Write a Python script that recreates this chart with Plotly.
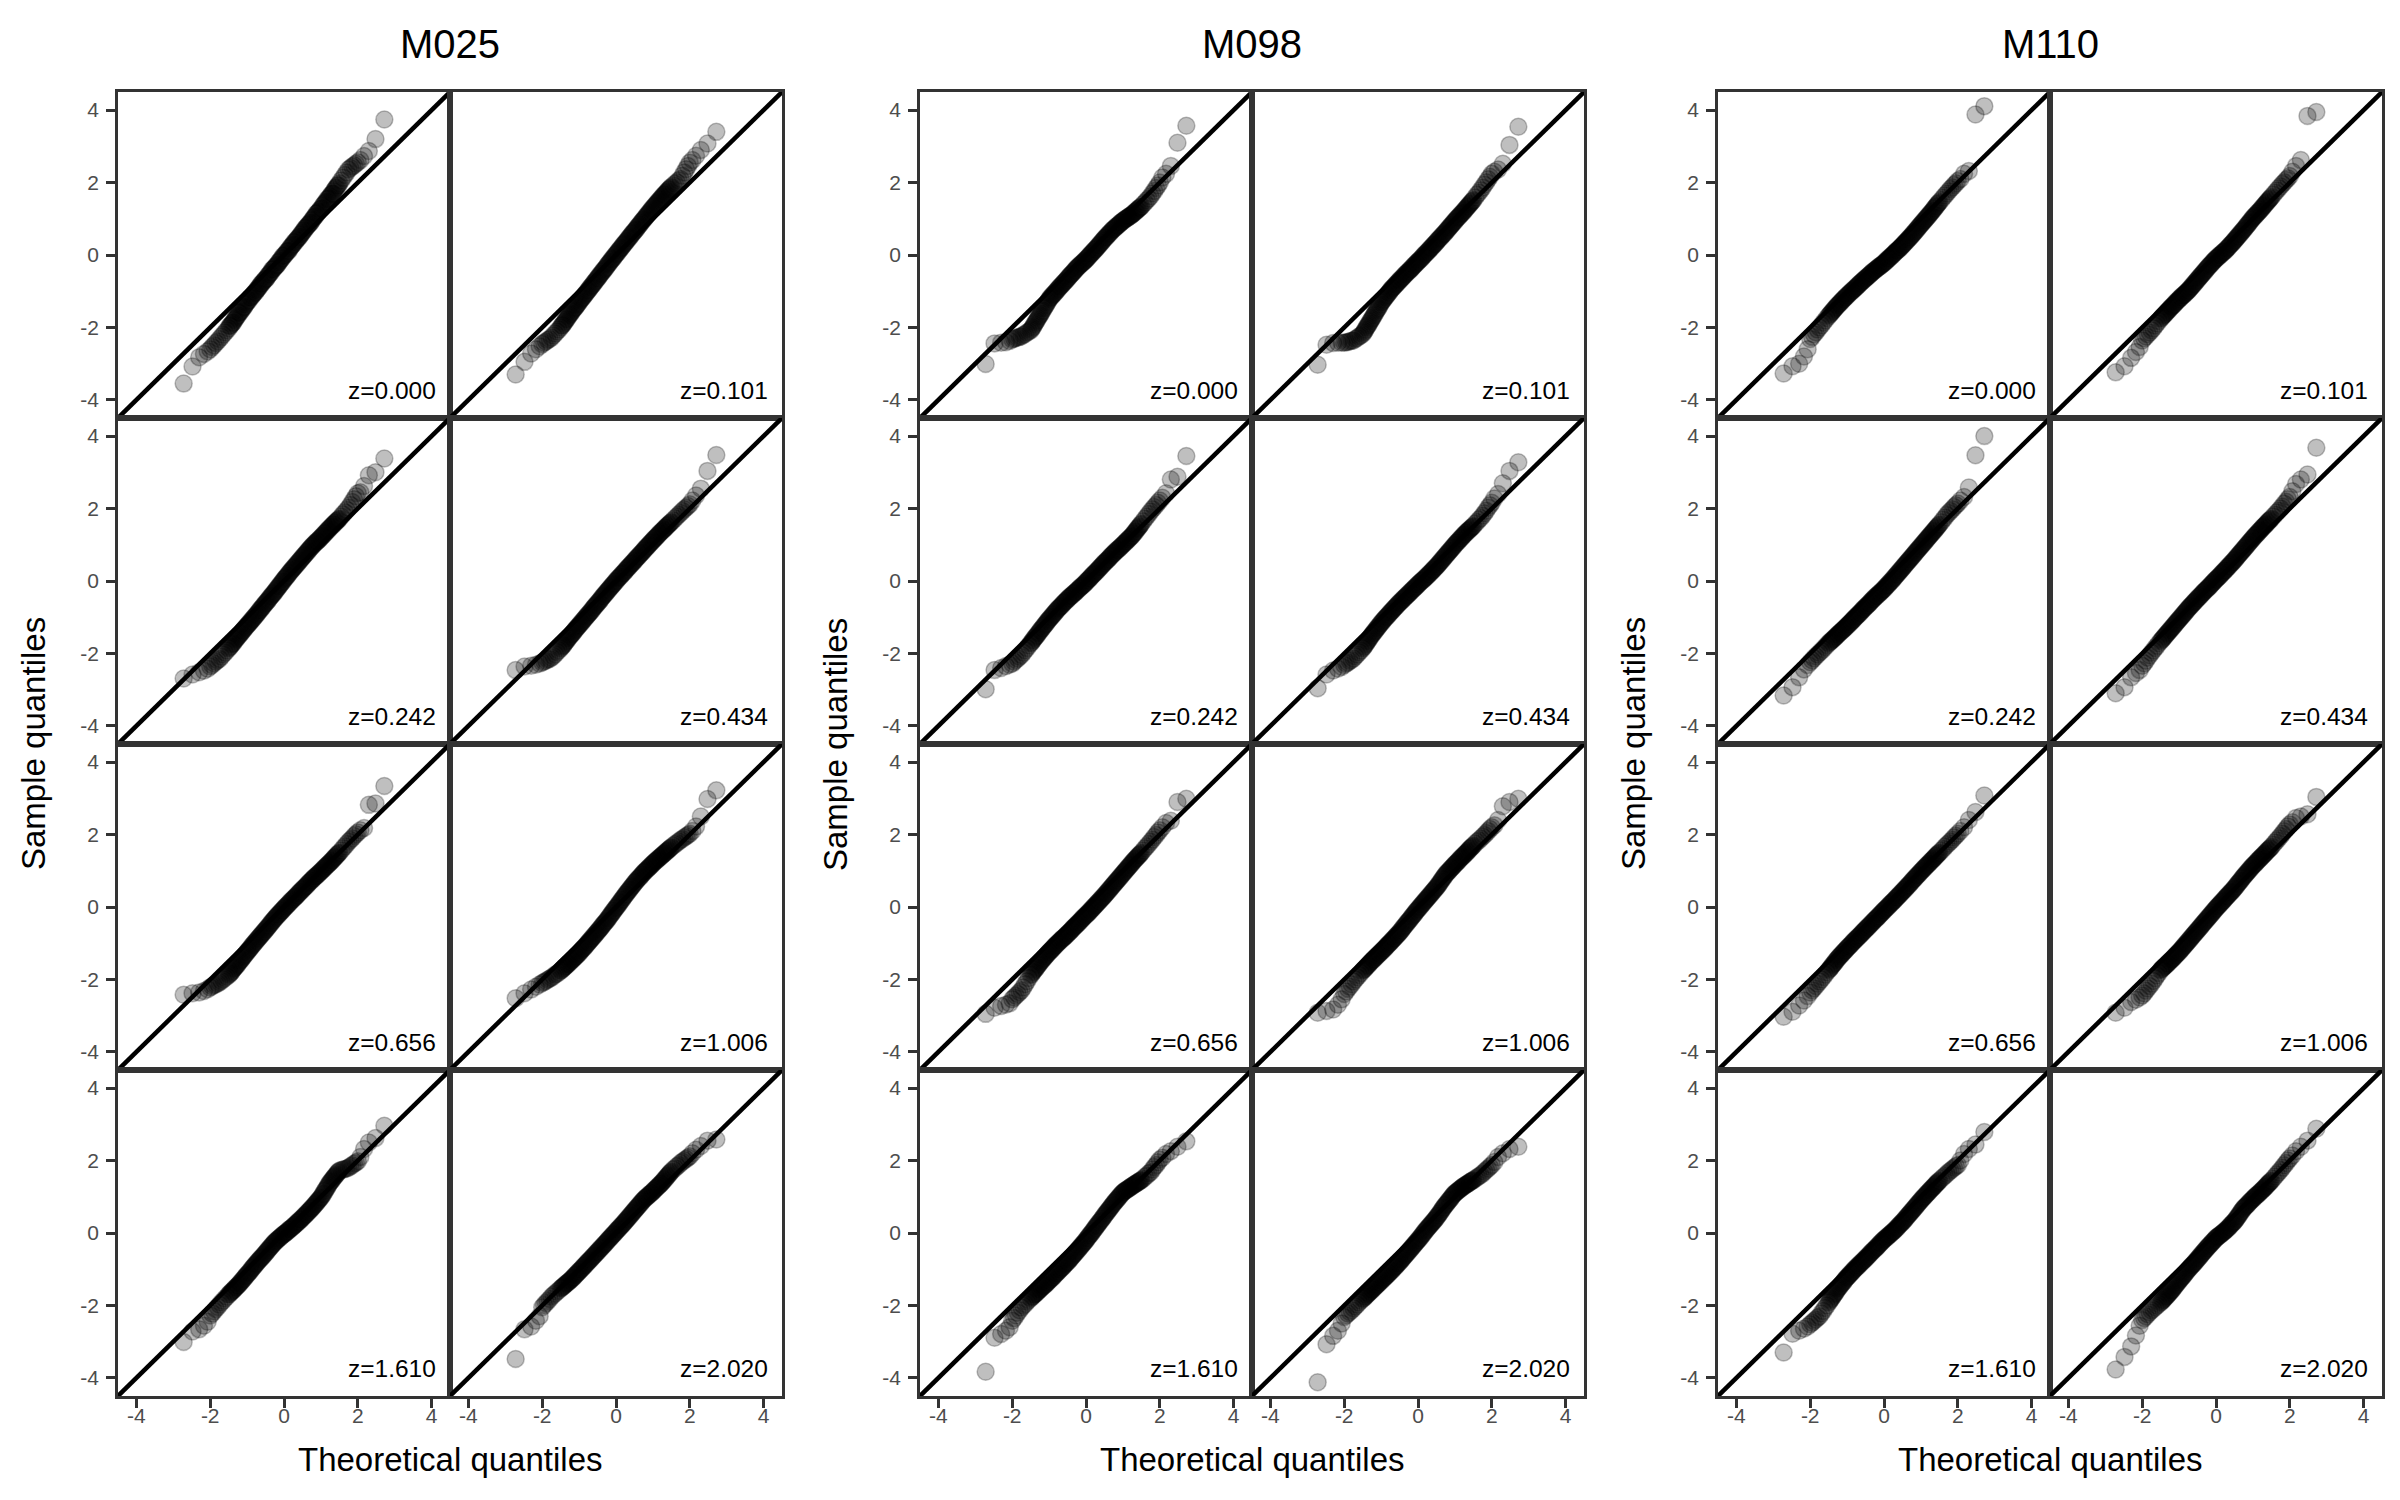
import plotly.graph_objects as go

# theoretical normal quantiles shared by every panel
THEO = [-2.72, -2.48, -2.30, -2.17, -2.07,
        -2.00, -1.95, -1.90, -1.85, -1.80, -1.75, -1.70, -1.65, -1.60, -1.55,
        -1.50, -1.45, -1.40, -1.35, -1.30, -1.25, -1.20, -1.15, -1.10, -1.05,
        -1.00, -0.95, -0.90, -0.85, -0.80, -0.75, -0.70, -0.65, -0.60, -0.55,
        -0.50, -0.45, -0.40, -0.35, -0.30, -0.25, -0.20, -0.15, -0.10, -0.05,
        0.00, 0.05, 0.10, 0.15, 0.20, 0.25, 0.30, 0.35, 0.40, 0.45,
        0.50, 0.55, 0.60, 0.65, 0.70, 0.75, 0.80, 0.85, 0.90, 0.95,
        1.00, 1.05, 1.10, 1.15, 1.20, 1.25, 1.30, 1.35, 1.40, 1.45,
        1.50, 1.55, 1.60, 1.65, 1.70, 1.75, 1.80, 1.85, 1.90, 1.95,
        2.00, 2.07, 2.17, 2.30, 2.48, 2.72]
# extra theoretical quantiles in the dense middle of the distribution
THEO_MID = [-1.475, -1.425, -1.375, -1.325, -1.275, -1.225, -1.175, -1.125, -1.075, -1.025,
            -0.975, -0.925, -0.875, -0.825, -0.775, -0.725, -0.675, -0.625, -0.575, -0.525,
            -0.475, -0.425, -0.375, -0.325, -0.275, -0.225, -0.175, -0.125, -0.075, -0.025,
            0.025, 0.075, 0.125, 0.175, 0.225, 0.275, 0.325, 0.375, 0.425, 0.475,
            0.525, 0.575, 0.625, 0.675, 0.725, 0.775, 0.825, 0.875, 0.925, 0.975,
            1.025, 1.075, 1.125, 1.175, 1.225, 1.275, 1.325, 1.375, 1.425, 1.475]

# sample quantiles, one list per panel (same order as THEO / THEO_MID)
M025_Z0000 = [-3.55, -3.08, -2.82, -2.73, -2.66,
              -2.60, -2.54, -2.49, -2.43, -2.38, -2.32, -2.26, -2.20, -2.14, -2.08,
              -2.02, -1.95, -1.88, -1.80, -1.73, -1.66, -1.59, -1.52, -1.44, -1.37,
              -1.30, -1.24, -1.17, -1.11, -1.04, -0.98, -0.92, -0.85, -0.79, -0.72,
              -0.66, -0.60, -0.53, -0.47, -0.40, -0.34, -0.28, -0.21, -0.15, -0.08,
              -0.02, 0.04, 0.11, 0.17, 0.24, 0.30, 0.36, 0.43, 0.49, 0.56,
              0.62, 0.69, 0.75, 0.82, 0.88, 0.95, 1.02, 1.08, 1.15, 1.21,
              1.28, 1.35, 1.42, 1.48, 1.55, 1.62, 1.69, 1.76, 1.84, 1.91,
              1.98, 2.06, 2.13, 2.21, 2.28, 2.36, 2.40, 2.44, 2.48, 2.52,
              2.56, 2.62, 2.73, 2.87, 3.20, 3.74]
M025_Z0000_MID = [-1.96, -1.91, -1.86, -1.77, -1.70, -1.60, -1.56, -1.48, -1.43, -1.33,
                  -1.27, -1.18, -1.14, -1.07, -1.03, -0.95, -0.88, -0.80, -0.75, -0.69,
                  -0.65, -0.56, -0.50, -0.41, -0.37, -0.31, -0.26, -0.18, -0.11, -0.03,
                  0.01, 0.08, 0.12, 0.21, 0.27, 0.35, 0.40, 0.46, 0.51, 0.59,
                  0.66, 0.74, 0.79, 0.85, 0.90, 0.98, 1.05, 1.14, 1.18, 1.25,
                  1.29, 1.39, 1.45, 1.54, 1.58, 1.66, 1.70, 1.80, 1.87, 1.93]
M025_Z0101 = [-3.30, -2.95, -2.72, -2.60, -2.52,
              -2.46, -2.42, -2.39, -2.35, -2.32, -2.28, -2.22, -2.17, -2.11, -2.06,
              -2.00, -1.93, -1.86, -1.78, -1.71, -1.64, -1.57, -1.50, -1.44, -1.37,
              -1.30, -1.23, -1.17, -1.10, -1.04, -0.97, -0.90, -0.84, -0.77, -0.71,
              -0.64, -0.57, -0.51, -0.44, -0.38, -0.31, -0.24, -0.18, -0.11, -0.05,
              0.02, 0.08, 0.15, 0.21, 0.28, 0.34, 0.40, 0.47, 0.53, 0.60,
              0.66, 0.72, 0.79, 0.85, 0.92, 0.98, 1.04, 1.11, 1.17, 1.24,
              1.30, 1.36, 1.42, 1.48, 1.54, 1.60, 1.66, 1.71, 1.77, 1.82,
              1.88, 1.92, 1.97, 2.01, 2.06, 2.10, 2.19, 2.28, 2.37, 2.46,
              2.55, 2.62, 2.74, 2.90, 3.08, 3.40]
M025_Z0101_MID = [-1.95, -1.90, -1.82, -1.76, -1.67, -1.61, -1.53, -1.47, -1.40, -1.34,
                  -1.26, -1.20, -1.13, -1.07, -1.00, -0.94, -0.87, -0.81, -0.74, -0.67,
                  -0.61, -0.54, -0.47, -0.41, -0.35, -0.27, -0.21, -0.14, -0.08, -0.01,
                  0.05, 0.12, 0.18, 0.25, 0.31, 0.37, 0.44, 0.50, 0.57, 0.63,
                  0.69, 0.76, 0.82, 0.89, 0.95, 1.01, 1.08, 1.14, 1.21, 1.27,
                  1.33, 1.39, 1.45, 1.51, 1.57, 1.63, 1.68, 1.74, 1.80, 1.85]
M025_Z0242 = [-2.69, -2.58, -2.52, -2.48, -2.42,
              -2.36, -2.32, -2.27, -2.23, -2.19, -2.15, -2.09, -2.03, -1.98, -1.92,
              -1.86, -1.80, -1.73, -1.67, -1.60, -1.54, -1.48, -1.42, -1.35, -1.29,
              -1.23, -1.17, -1.11, -1.05, -0.99, -0.93, -0.87, -0.80, -0.74, -0.67,
              -0.61, -0.55, -0.49, -0.42, -0.36, -0.30, -0.23, -0.16, -0.10, -0.03,
              0.04, 0.10, 0.16, 0.23, 0.29, 0.35, 0.41, 0.47, 0.53, 0.59,
              0.65, 0.71, 0.77, 0.83, 0.89, 0.95, 1.00, 1.05, 1.10, 1.15,
              1.20, 1.25, 1.31, 1.36, 1.42, 1.47, 1.52, 1.57, 1.62, 1.67,
              1.72, 1.78, 1.84, 1.90, 1.96, 2.02, 2.10, 2.18, 2.26, 2.34,
              2.42, 2.45, 2.62, 2.92, 3.00, 3.38]
M025_Z0242_MID = [-1.83, -1.76, -1.71, -1.63, -1.57, -1.51, -1.45, -1.38, -1.32, -1.26,
                  -1.20, -1.14, -1.08, -1.02, -0.96, -0.90, -0.83, -0.77, -0.71, -0.64,
                  -0.58, -0.52, -0.45, -0.39, -0.33, -0.26, -0.20, -0.13, -0.06, 0.00,
                  0.07, 0.13, 0.20, 0.26, 0.32, 0.38, 0.44, 0.50, 0.56, 0.62,
                  0.68, 0.74, 0.80, 0.86, 0.92, 0.97, 1.03, 1.08, 1.12, 1.17,
                  1.23, 1.28, 1.33, 1.39, 1.44, 1.50, 1.55, 1.60, 1.65, 1.70]
M025_Z0434 = [-2.46, -2.36, -2.34, -2.31, -2.28,
              -2.25, -2.22, -2.20, -2.17, -2.15, -2.12, -2.07, -2.02, -1.96, -1.91,
              -1.86, -1.79, -1.73, -1.66, -1.59, -1.53, -1.47, -1.41, -1.34, -1.28,
              -1.22, -1.16, -1.10, -1.04, -0.98, -0.92, -0.86, -0.80, -0.73, -0.67,
              -0.61, -0.55, -0.49, -0.42, -0.36, -0.30, -0.24, -0.18, -0.12, -0.06,
              0.00, 0.06, 0.11, 0.17, 0.22, 0.28, 0.34, 0.39, 0.45, 0.50,
              0.56, 0.62, 0.67, 0.73, 0.78, 0.84, 0.90, 0.95, 1.01, 1.06,
              1.12, 1.17, 1.22, 1.28, 1.33, 1.38, 1.43, 1.48, 1.53, 1.58,
              1.63, 1.68, 1.73, 1.78, 1.83, 1.88, 1.93, 1.98, 2.02, 2.07,
              2.12, 2.22, 2.36, 2.55, 3.04, 3.48]
M025_Z0434_MID = [-1.82, -1.77, -1.69, -1.63, -1.56, -1.50, -1.44, -1.37, -1.31, -1.25,
                  -1.19, -1.13, -1.07, -1.01, -0.95, -0.89, -0.83, -0.76, -0.70, -0.64,
                  -0.58, -0.52, -0.45, -0.39, -0.33, -0.27, -0.21, -0.15, -0.09, -0.03,
                  0.03, 0.09, 0.14, 0.20, 0.25, 0.31, 0.37, 0.42, 0.48, 0.53,
                  0.59, 0.65, 0.70, 0.76, 0.81, 0.87, 0.93, 0.98, 1.04, 1.09,
                  1.15, 1.20, 1.25, 1.31, 1.36, 1.41, 1.46, 1.51, 1.56, 1.61]
M025_Z0656 = [-2.42, -2.38, -2.36, -2.32, -2.27,
              -2.22, -2.19, -2.16, -2.14, -2.11, -2.08, -2.04, -2.00, -1.96, -1.92,
              -1.88, -1.82, -1.76, -1.69, -1.63, -1.57, -1.50, -1.44, -1.37, -1.31,
              -1.24, -1.18, -1.12, -1.05, -0.99, -0.93, -0.87, -0.81, -0.75, -0.69,
              -0.63, -0.57, -0.51, -0.44, -0.38, -0.32, -0.26, -0.21, -0.15, -0.10,
              -0.04, 0.01, 0.06, 0.12, 0.17, 0.22, 0.27, 0.32, 0.38, 0.43,
              0.48, 0.53, 0.58, 0.64, 0.69, 0.74, 0.79, 0.84, 0.88, 0.93,
              0.98, 1.03, 1.08, 1.13, 1.18, 1.23, 1.28, 1.34, 1.39, 1.45,
              1.50, 1.56, 1.62, 1.68, 1.74, 1.80, 1.85, 1.90, 1.96, 2.01,
              2.06, 2.12, 2.18, 2.82, 2.86, 3.34]
M025_Z0656_MID = [-1.85, -1.79, -1.72, -1.66, -1.60, -1.53, -1.47, -1.40, -1.34, -1.27,
                  -1.21, -1.15, -1.08, -1.02, -0.96, -0.90, -0.84, -0.78, -0.72, -0.66,
                  -0.60, -0.54, -0.47, -0.41, -0.35, -0.29, -0.23, -0.18, -0.12, -0.07,
                  -0.01, 0.04, 0.09, 0.15, 0.20, 0.25, 0.30, 0.35, 0.41, 0.46,
                  0.51, 0.56, 0.61, 0.67, 0.72, 0.77, 0.82, 0.86, 0.91, 0.96,
                  1.01, 1.06, 1.11, 1.16, 1.21, 1.26, 1.31, 1.37, 1.42, 1.48]
M025_Z1006 = [-2.52, -2.38, -2.28, -2.20, -2.14,
              -2.10, -2.07, -2.04, -2.01, -1.98, -1.95, -1.91, -1.87, -1.84, -1.80,
              -1.76, -1.71, -1.66, -1.62, -1.57, -1.52, -1.47, -1.42, -1.37, -1.32,
              -1.27, -1.21, -1.15, -1.10, -1.04, -0.98, -0.92, -0.86, -0.80, -0.74,
              -0.68, -0.62, -0.56, -0.49, -0.43, -0.37, -0.30, -0.23, -0.16, -0.09,
              -0.02, 0.05, 0.12, 0.19, 0.26, 0.33, 0.40, 0.46, 0.53, 0.59,
              0.66, 0.72, 0.78, 0.83, 0.89, 0.95, 1.00, 1.05, 1.10, 1.15,
              1.20, 1.25, 1.29, 1.34, 1.38, 1.43, 1.47, 1.52, 1.56, 1.61,
              1.65, 1.69, 1.73, 1.77, 1.81, 1.85, 1.88, 1.92, 1.95, 1.99,
              2.02, 2.10, 2.22, 2.50, 2.98, 3.22]
M025_Z1006_MID = [-1.74, -1.69, -1.64, -1.59, -1.55, -1.50, -1.45, -1.40, -1.35, -1.30,
                  -1.24, -1.18, -1.13, -1.07, -1.01, -0.95, -0.89, -0.83, -0.77, -0.71,
                  -0.65, -0.59, -0.52, -0.46, -0.40, -0.33, -0.26, -0.19, -0.12, -0.05,
                  0.01, 0.08, 0.15, 0.22, 0.29, 0.36, 0.43, 0.49, 0.56, 0.62,
                  0.69, 0.75, 0.80, 0.86, 0.92, 0.97, 1.02, 1.07, 1.12, 1.17,
                  1.22, 1.27, 1.31, 1.36, 1.40, 1.45, 1.49, 1.54, 1.58, 1.63]
M025_Z1610 = [-3.01, -2.72, -2.66, -2.56, -2.45,
              -2.28, -2.22, -2.16, -2.10, -2.04, -1.98, -1.92, -1.87, -1.81, -1.76,
              -1.70, -1.65, -1.60, -1.55, -1.50, -1.45, -1.39, -1.33, -1.27, -1.21,
              -1.15, -1.09, -1.03, -0.96, -0.90, -0.84, -0.78, -0.72, -0.67, -0.61,
              -0.55, -0.49, -0.43, -0.37, -0.31, -0.25, -0.21, -0.16, -0.12, -0.07,
              -0.03, 0.01, 0.05, 0.10, 0.14, 0.18, 0.23, 0.28, 0.32, 0.37,
              0.42, 0.47, 0.52, 0.58, 0.63, 0.68, 0.74, 0.80, 0.86, 0.92,
              0.98, 1.06, 1.15, 1.23, 1.32, 1.40, 1.46, 1.53, 1.59, 1.66,
              1.72, 1.74, 1.75, 1.77, 1.78, 1.80, 1.84, 1.87, 1.91, 1.94,
              1.98, 2.10, 2.32, 2.50, 2.62, 2.96]
M025_Z1610_MID = [-1.68, -1.62, -1.58, -1.52, -1.47, -1.42, -1.36, -1.30, -1.24, -1.18,
                  -1.12, -1.06, -0.99, -0.93, -0.87, -0.81, -0.75, -0.70, -0.64, -0.58,
                  -0.52, -0.46, -0.40, -0.34, -0.28, -0.23, -0.18, -0.14, -0.09, -0.05,
                  -0.01, 0.03, 0.08, 0.12, 0.16, 0.21, 0.25, 0.30, 0.35, 0.39,
                  0.45, 0.50, 0.55, 0.60, 0.66, 0.71, 0.77, 0.83, 0.89, 0.95,
                  1.02, 1.10, 1.19, 1.27, 1.36, 1.43, 1.50, 1.56, 1.62, 1.69]
M025_Z2020 = [-3.48, -2.66, -2.58, -2.42, -2.30,
              -2.05, -1.99, -1.93, -1.88, -1.82, -1.76, -1.71, -1.67, -1.62, -1.58,
              -1.53, -1.49, -1.45, -1.40, -1.36, -1.32, -1.27, -1.22, -1.16, -1.11,
              -1.06, -1.01, -0.95, -0.90, -0.84, -0.79, -0.74, -0.68, -0.63, -0.57,
              -0.52, -0.46, -0.41, -0.35, -0.30, -0.24, -0.18, -0.13, -0.07, -0.02,
              0.04, 0.10, 0.15, 0.21, 0.26, 0.32, 0.38, 0.44, 0.50, 0.56,
              0.62, 0.68, 0.74, 0.80, 0.86, 0.92, 0.97, 1.01, 1.06, 1.10,
              1.15, 1.20, 1.25, 1.30, 1.35, 1.40, 1.46, 1.52, 1.58, 1.64,
              1.70, 1.75, 1.79, 1.84, 1.88, 1.93, 1.97, 2.01, 2.04, 2.08,
              2.12, 2.20, 2.30, 2.40, 2.55, 2.58]
M025_Z2020_MID = [-1.51, -1.47, -1.42, -1.38, -1.34, -1.29, -1.24, -1.19, -1.14, -1.08,
                  -1.03, -0.98, -0.92, -0.87, -0.81, -0.76, -0.71, -0.65, -0.60, -0.54,
                  -0.49, -0.43, -0.38, -0.32, -0.27, -0.21, -0.15, -0.10, -0.04, 0.01,
                  0.07, 0.12, 0.18, 0.23, 0.29, 0.35, 0.41, 0.47, 0.53, 0.59,
                  0.65, 0.71, 0.77, 0.83, 0.89, 0.94, 0.99, 1.03, 1.08, 1.12,
                  1.17, 1.22, 1.27, 1.32, 1.37, 1.43, 1.49, 1.55, 1.61, 1.67]

M098_Z0000 = [-3.01, -2.44, -2.42, -2.41, -2.37,
              -2.33, -2.31, -2.29, -2.28, -2.26, -2.24, -2.21, -2.18, -2.14, -2.11,
              -2.08, -2.00, -1.91, -1.83, -1.74, -1.66, -1.57, -1.48, -1.40, -1.31,
              -1.22, -1.16, -1.10, -1.05, -0.99, -0.93, -0.87, -0.82, -0.76, -0.71,
              -0.65, -0.59, -0.53, -0.48, -0.42, -0.36, -0.31, -0.26, -0.22, -0.17,
              -0.12, -0.07, -0.01, 0.04, 0.10, 0.15, 0.21, 0.27, 0.33, 0.39,
              0.45, 0.50, 0.56, 0.61, 0.67, 0.72, 0.76, 0.81, 0.85, 0.90,
              0.94, 0.98, 1.01, 1.05, 1.08, 1.12, 1.16, 1.21, 1.25, 1.30,
              1.34, 1.40, 1.45, 1.51, 1.56, 1.62, 1.70, 1.77, 1.85, 1.92,
              2.00, 2.14, 2.24, 2.46, 3.10, 3.57]
M098_Z0000_MID = [-2.04, -1.96, -1.87, -1.79, -1.70, -1.62, -1.53, -1.44, -1.36, -1.27,
                  -1.19, -1.13, -1.08, -1.02, -0.96, -0.90, -0.85, -0.79, -0.74, -0.68,
                  -0.62, -0.56, -0.51, -0.45, -0.39, -0.34, -0.29, -0.24, -0.20, -0.15,
                  -0.10, -0.04, 0.02, 0.07, 0.13, 0.18, 0.24, 0.30, 0.36, 0.42,
                  0.48, 0.53, 0.59, 0.64, 0.70, 0.74, 0.79, 0.83, 0.88, 0.92,
                  0.96, 1.00, 1.03, 1.07, 1.10, 1.14, 1.19, 1.23, 1.28, 1.32]
M098_Z0101 = [-3.03, -2.48, -2.43, -2.42, -2.42,
              -2.42, -2.41, -2.40, -2.38, -2.37, -2.36, -2.32, -2.29, -2.25, -2.22,
              -2.18, -2.10, -2.01, -1.93, -1.84, -1.76, -1.67, -1.58, -1.50, -1.41,
              -1.32, -1.25, -1.18, -1.12, -1.05, -0.98, -0.92, -0.87, -0.81, -0.76,
              -0.70, -0.65, -0.60, -0.54, -0.49, -0.44, -0.39, -0.34, -0.28, -0.23,
              -0.18, -0.13, -0.08, -0.02, 0.03, 0.08, 0.14, 0.19, 0.25, 0.30,
              0.36, 0.42, 0.47, 0.53, 0.58, 0.64, 0.70, 0.76, 0.82, 0.88,
              0.94, 1.00, 1.05, 1.11, 1.16, 1.22, 1.28, 1.34, 1.40, 1.46,
              1.52, 1.59, 1.66, 1.72, 1.79, 1.86, 1.94, 2.01, 2.09, 2.16,
              2.24, 2.30, 2.36, 2.52, 3.04, 3.54]
M098_Z0101_MID = [-2.14, -2.06, -1.97, -1.89, -1.80, -1.72, -1.63, -1.54, -1.46, -1.37,
                  -1.29, -1.22, -1.15, -1.09, -1.02, -0.95, -0.90, -0.84, -0.79, -0.73,
                  -0.68, -0.63, -0.57, -0.52, -0.47, -0.42, -0.37, -0.31, -0.26, -0.21,
                  -0.16, -0.11, -0.05, 0.01, 0.06, 0.11, 0.17, 0.22, 0.28, 0.33,
                  0.39, 0.45, 0.50, 0.56, 0.61, 0.67, 0.73, 0.79, 0.85, 0.91,
                  0.97, 1.03, 1.08, 1.14, 1.19, 1.25, 1.31, 1.37, 1.43, 1.49]
M098_Z0242 = [-2.99, -2.46, -2.40, -2.35, -2.31,
              -2.28, -2.23, -2.18, -2.14, -2.09, -2.04, -1.98, -1.91, -1.85, -1.78,
              -1.72, -1.65, -1.58, -1.52, -1.45, -1.38, -1.32, -1.25, -1.19, -1.12,
              -1.06, -1.00, -0.94, -0.88, -0.82, -0.76, -0.71, -0.66, -0.60, -0.55,
              -0.50, -0.45, -0.41, -0.36, -0.32, -0.27, -0.22, -0.17, -0.13, -0.08,
              -0.03, 0.02, 0.07, 0.13, 0.18, 0.23, 0.28, 0.34, 0.39, 0.45,
              0.50, 0.55, 0.60, 0.66, 0.71, 0.76, 0.81, 0.86, 0.90, 0.95,
              1.00, 1.05, 1.10, 1.15, 1.20, 1.25, 1.32, 1.38, 1.45, 1.51,
              1.58, 1.65, 1.72, 1.78, 1.85, 1.92, 1.98, 2.04, 2.10, 2.16,
              2.22, 2.30, 2.42, 2.80, 2.88, 3.45]
M098_Z0242_MID = [-1.69, -1.62, -1.55, -1.49, -1.42, -1.35, -1.29, -1.22, -1.16, -1.09,
                  -1.03, -0.97, -0.91, -0.85, -0.79, -0.74, -0.69, -0.63, -0.58, -0.53,
                  -0.48, -0.43, -0.39, -0.34, -0.30, -0.25, -0.20, -0.15, -0.11, -0.06,
                  0.00, 0.05, 0.10, 0.16, 0.21, 0.26, 0.31, 0.37, 0.42, 0.48,
                  0.53, 0.58, 0.63, 0.69, 0.74, 0.79, 0.84, 0.88, 0.93, 0.98,
                  1.03, 1.08, 1.13, 1.18, 1.23, 1.29, 1.35, 1.42, 1.48, 1.55]
M098_Z0434 = [-2.96, -2.58, -2.47, -2.42, -2.37,
              -2.32, -2.28, -2.25, -2.21, -2.18, -2.14, -2.08, -2.03, -1.97, -1.92,
              -1.86, -1.79, -1.71, -1.64, -1.56, -1.49, -1.42, -1.36, -1.29, -1.23,
              -1.16, -1.10, -1.04, -0.99, -0.93, -0.87, -0.82, -0.76, -0.71, -0.65,
              -0.60, -0.55, -0.50, -0.45, -0.40, -0.35, -0.30, -0.25, -0.20, -0.15,
              -0.10, -0.05, 0.00, 0.04, 0.09, 0.14, 0.19, 0.24, 0.30, 0.35,
              0.40, 0.46, 0.52, 0.58, 0.64, 0.70, 0.76, 0.82, 0.88, 0.94,
              1.00, 1.06, 1.11, 1.17, 1.22, 1.28, 1.33, 1.38, 1.42, 1.47,
              1.52, 1.58, 1.63, 1.69, 1.74, 1.80, 1.87, 1.94, 2.02, 2.09,
              2.16, 2.28, 2.40, 2.70, 3.04, 3.28]
M098_Z0434_MID = [-1.82, -1.75, -1.67, -1.60, -1.52, -1.45, -1.39, -1.32, -1.26, -1.19,
                  -1.13, -1.07, -1.01, -0.96, -0.90, -0.84, -0.79, -0.73, -0.68, -0.62,
                  -0.57, -0.52, -0.47, -0.42, -0.37, -0.32, -0.27, -0.22, -0.17, -0.12,
                  -0.07, -0.02, 0.02, 0.07, 0.12, 0.17, 0.22, 0.27, 0.32, 0.38,
                  0.43, 0.49, 0.55, 0.61, 0.67, 0.73, 0.79, 0.85, 0.91, 0.97,
                  1.03, 1.08, 1.14, 1.19, 1.25, 1.30, 1.35, 1.40, 1.45, 1.50]
M098_Z0656 = [-2.95, -2.78, -2.73, -2.70, -2.66,
              -2.55, -2.50, -2.45, -2.40, -2.35, -2.30, -2.22, -2.13, -2.05, -1.96,
              -1.88, -1.81, -1.74, -1.68, -1.61, -1.54, -1.48, -1.42, -1.36, -1.30,
              -1.24, -1.19, -1.14, -1.08, -1.03, -0.98, -0.93, -0.88, -0.84, -0.79,
              -0.74, -0.69, -0.64, -0.58, -0.53, -0.48, -0.43, -0.38, -0.32, -0.27,
              -0.22, -0.17, -0.12, -0.06, -0.01, 0.04, 0.10, 0.15, 0.21, 0.26,
              0.32, 0.38, 0.44, 0.50, 0.56, 0.62, 0.68, 0.74, 0.80, 0.86,
              0.92, 0.98, 1.04, 1.10, 1.16, 1.22, 1.28, 1.33, 1.39, 1.44,
              1.50, 1.56, 1.62, 1.68, 1.74, 1.80, 1.86, 1.93, 1.99, 2.06,
              2.12, 2.20, 2.32, 2.38, 2.90, 2.99]
M098_Z0656_MID = [-1.85, -1.78, -1.71, -1.65, -1.58, -1.51, -1.45, -1.39, -1.33, -1.27,
                  -1.22, -1.17, -1.11, -1.06, -1.01, -0.96, -0.91, -0.86, -0.82, -0.77,
                  -0.72, -0.67, -0.61, -0.56, -0.51, -0.46, -0.41, -0.35, -0.30, -0.25,
                  -0.20, -0.15, -0.09, -0.04, 0.02, 0.07, 0.13, 0.18, 0.24, 0.29,
                  0.35, 0.41, 0.47, 0.53, 0.59, 0.65, 0.71, 0.77, 0.83, 0.89,
                  0.95, 1.01, 1.07, 1.13, 1.19, 1.25, 1.31, 1.36, 1.42, 1.47]
M098_Z1006 = [-2.92, -2.87, -2.83, -2.70, -2.55,
              -2.40, -2.33, -2.26, -2.20, -2.13, -2.06, -2.00, -1.94, -1.88, -1.82,
              -1.76, -1.71, -1.65, -1.60, -1.54, -1.49, -1.44, -1.39, -1.34, -1.29,
              -1.24, -1.19, -1.14, -1.08, -1.03, -0.98, -0.92, -0.87, -0.81, -0.76,
              -0.70, -0.64, -0.57, -0.51, -0.44, -0.38, -0.32, -0.25, -0.19, -0.12,
              -0.06, 0.00, 0.06, 0.12, 0.18, 0.24, 0.30, 0.36, 0.42, 0.48,
              0.54, 0.61, 0.68, 0.76, 0.83, 0.90, 0.96, 1.01, 1.07, 1.12,
              1.18, 1.23, 1.28, 1.34, 1.39, 1.44, 1.49, 1.54, 1.60, 1.65,
              1.70, 1.75, 1.80, 1.84, 1.89, 1.94, 1.99, 2.04, 2.10, 2.15,
              2.20, 2.26, 2.40, 2.78, 2.90, 2.99]
M098_Z1006_MID = [-1.73, -1.68, -1.62, -1.57, -1.51, -1.46, -1.41, -1.36, -1.31, -1.26,
                  -1.21, -1.16, -1.11, -1.05, -1.00, -0.95, -0.89, -0.84, -0.78, -0.73,
                  -0.67, -0.60, -0.54, -0.47, -0.41, -0.35, -0.28, -0.22, -0.15, -0.09,
                  -0.03, 0.03, 0.09, 0.15, 0.21, 0.27, 0.33, 0.39, 0.45, 0.51,
                  0.57, 0.64, 0.72, 0.79, 0.86, 0.93, 0.98, 1.04, 1.09, 1.15,
                  1.20, 1.25, 1.31, 1.36, 1.41, 1.46, 1.51, 1.57, 1.62, 1.67]
M098_Z1610 = [-3.83, -2.89, -2.79, -2.70, -2.60,
              -2.42, -2.35, -2.28, -2.20, -2.13, -2.06, -2.01, -1.96, -1.90, -1.85,
              -1.80, -1.75, -1.70, -1.66, -1.61, -1.56, -1.51, -1.46, -1.42, -1.37,
              -1.32, -1.27, -1.22, -1.16, -1.11, -1.06, -1.01, -0.96, -0.90, -0.85,
              -0.80, -0.74, -0.68, -0.62, -0.56, -0.50, -0.44, -0.38, -0.32, -0.26,
              -0.20, -0.13, -0.06, 0.00, 0.07, 0.14, 0.21, 0.28, 0.34, 0.41,
              0.48, 0.55, 0.62, 0.68, 0.75, 0.82, 0.88, 0.94, 1.00, 1.06,
              1.12, 1.16, 1.19, 1.23, 1.26, 1.30, 1.33, 1.36, 1.40, 1.43,
              1.46, 1.50, 1.55, 1.59, 1.64, 1.68, 1.75, 1.82, 1.88, 1.95,
              2.02, 2.08, 2.18, 2.26, 2.38, 2.53]
M098_Z1610_MID = [-1.77, -1.72, -1.68, -1.63, -1.58, -1.53, -1.48, -1.44, -1.39, -1.34,
                  -1.29, -1.24, -1.19, -1.13, -1.08, -1.03, -0.98, -0.93, -0.87, -0.82,
                  -0.77, -0.71, -0.65, -0.59, -0.53, -0.47, -0.41, -0.35, -0.29, -0.23,
                  -0.16, -0.09, -0.03, 0.04, 0.11, 0.18, 0.24, 0.31, 0.38, 0.45,
                  0.52, 0.58, 0.65, 0.72, 0.78, 0.85, 0.91, 0.97, 1.03, 1.09,
                  1.14, 1.18, 1.21, 1.24, 1.28, 1.31, 1.35, 1.38, 1.41, 1.45]
M098_Z2020 = [-4.12, -3.07, -2.84, -2.70, -2.50,
              -2.32, -2.27, -2.22, -2.18, -2.13, -2.08, -2.03, -1.98, -1.92, -1.87,
              -1.82, -1.77, -1.72, -1.67, -1.62, -1.57, -1.52, -1.47, -1.42, -1.37,
              -1.32, -1.27, -1.22, -1.17, -1.12, -1.07, -1.02, -0.96, -0.91, -0.85,
              -0.80, -0.74, -0.68, -0.62, -0.56, -0.50, -0.44, -0.38, -0.32, -0.26,
              -0.20, -0.14, -0.07, -0.01, 0.06, 0.12, 0.18, 0.24, 0.30, 0.36,
              0.42, 0.49, 0.56, 0.64, 0.71, 0.78, 0.84, 0.91, 0.97, 1.04,
              1.10, 1.14, 1.18, 1.22, 1.26, 1.30, 1.33, 1.36, 1.40, 1.43,
              1.46, 1.50, 1.53, 1.57, 1.60, 1.64, 1.69, 1.74, 1.78, 1.83,
              1.88, 1.96, 2.10, 2.20, 2.32, 2.38]
M098_Z2020_MID = [-1.80, -1.75, -1.70, -1.65, -1.60, -1.55, -1.50, -1.45, -1.40, -1.35,
                  -1.30, -1.25, -1.20, -1.15, -1.10, -1.05, -0.99, -0.94, -0.88, -0.83,
                  -0.77, -0.71, -0.65, -0.59, -0.53, -0.47, -0.41, -0.35, -0.29, -0.23,
                  -0.17, -0.11, -0.04, 0.03, 0.09, 0.15, 0.21, 0.27, 0.33, 0.39,
                  0.46, 0.53, 0.60, 0.68, 0.75, 0.81, 0.88, 0.94, 1.01, 1.07,
                  1.12, 1.16, 1.20, 1.24, 1.28, 1.32, 1.35, 1.38, 1.42, 1.45]

M110_Z0000 = [-3.27, -3.07, -3.00, -2.80, -2.60,
              -2.32, -2.26, -2.19, -2.13, -2.06, -2.00, -1.94, -1.87, -1.81, -1.74,
              -1.68, -1.62, -1.56, -1.50, -1.44, -1.38, -1.33, -1.28, -1.22, -1.17,
              -1.12, -1.07, -1.02, -0.98, -0.93, -0.88, -0.83, -0.78, -0.74, -0.69,
              -0.64, -0.60, -0.55, -0.51, -0.46, -0.42, -0.38, -0.34, -0.30, -0.26,
              -0.22, -0.17, -0.12, -0.08, -0.03, 0.02, 0.07, 0.12, 0.16, 0.21,
              0.26, 0.32, 0.37, 0.43, 0.48, 0.54, 0.60, 0.66, 0.72, 0.78,
              0.84, 0.90, 0.96, 1.02, 1.08, 1.14, 1.20, 1.27, 1.33, 1.40,
              1.46, 1.52, 1.58, 1.64, 1.70, 1.76, 1.82, 1.87, 1.93, 1.98,
              2.04, 2.10, 2.24, 2.32, 3.88, 4.11]
M110_Z0000_MID = [-1.65, -1.59, -1.53, -1.47, -1.41, -1.36, -1.30, -1.25, -1.20, -1.15,
                  -1.10, -1.05, -1.00, -0.95, -0.91, -0.86, -0.81, -0.76, -0.71, -0.67,
                  -0.62, -0.58, -0.53, -0.48, -0.44, -0.40, -0.36, -0.32, -0.28, -0.24,
                  -0.20, -0.15, -0.10, -0.05, -0.01, 0.04, 0.10, 0.14, 0.19, 0.24,
                  0.29, 0.35, 0.40, 0.46, 0.51, 0.57, 0.63, 0.69, 0.75, 0.81,
                  0.87, 0.93, 0.99, 1.05, 1.11, 1.17, 1.23, 1.30, 1.36, 1.43]
M110_Z0101 = [-3.24, -3.07, -2.84, -2.68, -2.54,
              -2.36, -2.30, -2.25, -2.19, -2.14, -2.08, -2.02, -1.95, -1.89, -1.82,
              -1.76, -1.70, -1.65, -1.59, -1.54, -1.48, -1.43, -1.38, -1.32, -1.27,
              -1.22, -1.17, -1.12, -1.08, -1.03, -0.98, -0.92, -0.86, -0.80, -0.74,
              -0.68, -0.62, -0.56, -0.50, -0.44, -0.38, -0.32, -0.27, -0.21, -0.16,
              -0.10, -0.06, -0.01, 0.03, 0.08, 0.12, 0.18, 0.23, 0.29, 0.34,
              0.40, 0.46, 0.52, 0.58, 0.64, 0.70, 0.76, 0.83, 0.89, 0.96,
              1.02, 1.08, 1.13, 1.19, 1.24, 1.30, 1.36, 1.42, 1.48, 1.54,
              1.60, 1.66, 1.72, 1.78, 1.84, 1.90, 1.96, 2.01, 2.07, 2.12,
              2.18, 2.30, 2.46, 2.62, 3.84, 3.95]
M110_Z0101_MID = [-1.73, -1.67, -1.62, -1.56, -1.51, -1.45, -1.40, -1.35, -1.29, -1.24,
                  -1.19, -1.14, -1.10, -1.05, -1.00, -0.95, -0.89, -0.83, -0.77, -0.71,
                  -0.65, -0.59, -0.53, -0.47, -0.41, -0.35, -0.29, -0.24, -0.18, -0.13,
                  -0.08, -0.03, 0.01, 0.06, 0.10, 0.15, 0.20, 0.26, 0.31, 0.37,
                  0.43, 0.49, 0.55, 0.61, 0.67, 0.73, 0.80, 0.86, 0.92, 0.99,
                  1.05, 1.10, 1.16, 1.21, 1.27, 1.33, 1.39, 1.45, 1.51, 1.57]
M110_Z0242 = [-3.16, -2.93, -2.66, -2.44, -2.32,
              -2.24, -2.19, -2.13, -2.08, -2.03, -1.98, -1.93, -1.88, -1.82, -1.77,
              -1.72, -1.67, -1.62, -1.58, -1.53, -1.48, -1.43, -1.38, -1.34, -1.29,
              -1.24, -1.19, -1.14, -1.08, -1.03, -0.98, -0.93, -0.88, -0.82, -0.77,
              -0.72, -0.67, -0.62, -0.56, -0.51, -0.46, -0.41, -0.36, -0.32, -0.27,
              -0.22, -0.16, -0.11, -0.05, 0.00, 0.06, 0.12, 0.18, 0.24, 0.30,
              0.36, 0.42, 0.48, 0.54, 0.60, 0.66, 0.72, 0.78, 0.84, 0.90,
              0.96, 1.02, 1.08, 1.14, 1.20, 1.26, 1.32, 1.38, 1.44, 1.50,
              1.56, 1.62, 1.69, 1.75, 1.82, 1.88, 1.93, 1.98, 2.04, 2.09,
              2.14, 2.22, 2.32, 2.58, 3.47, 4.00]
M110_Z0242_MID = [-1.69, -1.65, -1.60, -1.55, -1.50, -1.45, -1.41, -1.36, -1.31, -1.26,
                  -1.21, -1.16, -1.11, -1.06, -1.00, -0.95, -0.90, -0.85, -0.79, -0.74,
                  -0.69, -0.64, -0.59, -0.53, -0.48, -0.43, -0.39, -0.34, -0.29, -0.24,
                  -0.19, -0.13, -0.08, -0.02, 0.03, 0.09, 0.15, 0.21, 0.27, 0.33,
                  0.39, 0.45, 0.51, 0.57, 0.63, 0.69, 0.75, 0.81, 0.87, 0.93,
                  0.99, 1.05, 1.11, 1.17, 1.23, 1.29, 1.35, 1.41, 1.47, 1.53]
M110_Z0434 = [-3.10, -2.93, -2.66, -2.54, -2.46,
              -2.34, -2.27, -2.20, -2.12, -2.05, -1.98, -1.92, -1.85, -1.79, -1.72,
              -1.66, -1.60, -1.54, -1.48, -1.42, -1.36, -1.30, -1.24, -1.18, -1.12,
              -1.06, -1.00, -0.94, -0.88, -0.82, -0.76, -0.70, -0.65, -0.59, -0.54,
              -0.48, -0.43, -0.38, -0.32, -0.27, -0.22, -0.17, -0.12, -0.06, -0.01,
              0.04, 0.09, 0.14, 0.20, 0.25, 0.30, 0.36, 0.41, 0.47, 0.52,
              0.58, 0.64, 0.70, 0.76, 0.82, 0.88, 0.94, 1.00, 1.06, 1.12,
              1.18, 1.24, 1.29, 1.35, 1.40, 1.46, 1.51, 1.56, 1.62, 1.67,
              1.72, 1.78, 1.83, 1.89, 1.94, 2.00, 2.06, 2.13, 2.19, 2.26,
              2.32, 2.48, 2.68, 2.80, 2.94, 3.68]
M110_Z0434_MID = [-1.63, -1.57, -1.51, -1.45, -1.39, -1.33, -1.27, -1.21, -1.15, -1.09,
                  -1.03, -0.97, -0.91, -0.85, -0.79, -0.73, -0.68, -0.62, -0.57, -0.51,
                  -0.46, -0.41, -0.35, -0.30, -0.25, -0.20, -0.15, -0.09, -0.04, 0.02,
                  0.07, 0.12, 0.17, 0.23, 0.28, 0.33, 0.39, 0.44, 0.50, 0.55,
                  0.61, 0.67, 0.73, 0.79, 0.85, 0.91, 0.97, 1.03, 1.09, 1.15,
                  1.21, 1.27, 1.32, 1.38, 1.43, 1.49, 1.54, 1.59, 1.65, 1.70]
M110_Z0656 = [-3.03, -2.89, -2.72, -2.58, -2.46,
              -2.36, -2.30, -2.24, -2.18, -2.12, -2.06, -2.00, -1.93, -1.87, -1.80,
              -1.74, -1.68, -1.61, -1.55, -1.48, -1.42, -1.36, -1.31, -1.25, -1.20,
              -1.14, -1.09, -1.04, -0.98, -0.93, -0.88, -0.83, -0.78, -0.72, -0.67,
              -0.62, -0.57, -0.52, -0.46, -0.41, -0.36, -0.31, -0.26, -0.20, -0.15,
              -0.10, -0.05, 0.00, 0.06, 0.11, 0.16, 0.21, 0.26, 0.32, 0.37,
              0.42, 0.48, 0.53, 0.59, 0.64, 0.70, 0.76, 0.81, 0.87, 0.92,
              0.98, 1.03, 1.08, 1.14, 1.19, 1.24, 1.29, 1.34, 1.40, 1.45,
              1.50, 1.55, 1.60, 1.66, 1.71, 1.76, 1.81, 1.86, 1.92, 1.97,
              2.02, 2.10, 2.20, 2.40, 2.62, 3.08]
M110_Z0656_MID = [-1.71, -1.65, -1.58, -1.52, -1.45, -1.39, -1.33, -1.28, -1.22, -1.17,
                  -1.11, -1.06, -1.01, -0.95, -0.90, -0.85, -0.80, -0.75, -0.70, -0.64,
                  -0.59, -0.54, -0.49, -0.44, -0.38, -0.33, -0.28, -0.23, -0.18, -0.12,
                  -0.07, -0.02, 0.03, 0.08, 0.13, 0.18, 0.24, 0.29, 0.34, 0.40,
                  0.45, 0.50, 0.56, 0.61, 0.67, 0.73, 0.78, 0.84, 0.89, 0.95,
                  1.00, 1.06, 1.11, 1.16, 1.21, 1.27, 1.32, 1.37, 1.42, 1.48]
M110_Z1006 = [-2.92, -2.78, -2.62, -2.56, -2.50,
              -2.44, -2.38, -2.31, -2.25, -2.18, -2.12, -2.04, -1.97, -1.89, -1.82,
              -1.74, -1.69, -1.64, -1.60, -1.55, -1.50, -1.45, -1.40, -1.34, -1.29,
              -1.24, -1.18, -1.12, -1.06, -1.00, -0.94, -0.88, -0.82, -0.76, -0.70,
              -0.64, -0.58, -0.52, -0.46, -0.40, -0.34, -0.28, -0.22, -0.16, -0.10,
              -0.04, 0.02, 0.07, 0.13, 0.18, 0.24, 0.30, 0.35, 0.41, 0.46,
              0.52, 0.58, 0.65, 0.71, 0.78, 0.84, 0.90, 0.96, 1.02, 1.08,
              1.14, 1.19, 1.24, 1.30, 1.35, 1.40, 1.45, 1.50, 1.56, 1.61,
              1.66, 1.72, 1.78, 1.84, 1.90, 1.96, 2.02, 2.09, 2.15, 2.22,
              2.28, 2.34, 2.46, 2.50, 2.56, 3.04]
M110_Z1006_MID = [-1.72, -1.67, -1.62, -1.57, -1.52, -1.47, -1.42, -1.37, -1.32, -1.26,
                  -1.21, -1.15, -1.09, -1.03, -0.97, -0.91, -0.85, -0.79, -0.73, -0.67,
                  -0.61, -0.55, -0.49, -0.43, -0.37, -0.31, -0.25, -0.19, -0.13, -0.07,
                  -0.01, 0.04, 0.10, 0.15, 0.21, 0.27, 0.32, 0.38, 0.43, 0.49,
                  0.55, 0.62, 0.68, 0.74, 0.81, 0.87, 0.93, 0.99, 1.05, 1.11,
                  1.16, 1.21, 1.27, 1.32, 1.37, 1.42, 1.48, 1.53, 1.58, 1.63]
M110_Z1610 = [-3.30, -2.78, -2.70, -2.64, -2.58,
              -2.52, -2.48, -2.43, -2.39, -2.34, -2.30, -2.22, -2.15, -2.07, -2.00,
              -1.92, -1.84, -1.77, -1.69, -1.62, -1.54, -1.48, -1.41, -1.35, -1.28,
              -1.22, -1.17, -1.11, -1.06, -1.00, -0.95, -0.90, -0.85, -0.80, -0.75,
              -0.70, -0.65, -0.60, -0.54, -0.49, -0.44, -0.39, -0.34, -0.28, -0.23,
              -0.18, -0.14, -0.09, -0.05, 0.00, 0.04, 0.09, 0.14, 0.20, 0.25,
              0.30, 0.36, 0.42, 0.48, 0.54, 0.60, 0.66, 0.72, 0.78, 0.84,
              0.90, 0.96, 1.01, 1.07, 1.12, 1.18, 1.23, 1.28, 1.34, 1.39,
              1.44, 1.49, 1.54, 1.58, 1.63, 1.68, 1.72, 1.76, 1.80, 1.84,
              1.88, 2.00, 2.18, 2.32, 2.44, 2.79]
M110_Z1610_MID = [-1.88, -1.81, -1.73, -1.66, -1.58, -1.51, -1.45, -1.38, -1.32, -1.25,
                  -1.20, -1.14, -1.09, -1.03, -0.98, -0.93, -0.88, -0.83, -0.78, -0.73,
                  -0.68, -0.63, -0.57, -0.52, -0.47, -0.42, -0.37, -0.31, -0.26, -0.21,
                  -0.16, -0.12, -0.07, -0.03, 0.02, 0.06, 0.12, 0.17, 0.23, 0.28,
                  0.33, 0.39, 0.45, 0.51, 0.57, 0.63, 0.69, 0.75, 0.81, 0.87,
                  0.93, 0.99, 1.04, 1.10, 1.15, 1.21, 1.26, 1.31, 1.37, 1.42]
M110_Z2020 = [-3.77, -3.42, -3.13, -2.83, -2.56,
              -2.40, -2.35, -2.30, -2.24, -2.19, -2.14, -2.10, -2.05, -2.01, -1.96,
              -1.92, -1.86, -1.81, -1.75, -1.70, -1.64, -1.58, -1.51, -1.45, -1.38,
              -1.32, -1.26, -1.20, -1.13, -1.07, -1.01, -0.95, -0.89, -0.84, -0.78,
              -0.72, -0.66, -0.60, -0.54, -0.48, -0.42, -0.36, -0.31, -0.25, -0.20,
              -0.14, -0.10, -0.06, -0.02, 0.02, 0.06, 0.11, 0.16, 0.22, 0.27,
              0.32, 0.39, 0.46, 0.54, 0.61, 0.68, 0.73, 0.78, 0.84, 0.89,
              0.94, 0.99, 1.04, 1.08, 1.13, 1.18, 1.23, 1.28, 1.34, 1.39,
              1.44, 1.50, 1.56, 1.62, 1.68, 1.74, 1.80, 1.87, 1.93, 2.00,
              2.06, 2.14, 2.26, 2.38, 2.55, 2.88]
M110_Z2020_MID = [-1.89, -1.84, -1.78, -1.73, -1.67, -1.61, -1.55, -1.48, -1.42, -1.35,
                  -1.29, -1.23, -1.17, -1.10, -1.04, -0.98, -0.92, -0.87, -0.81, -0.75,
                  -0.69, -0.63, -0.57, -0.51, -0.45, -0.39, -0.34, -0.28, -0.23, -0.17,
                  -0.12, -0.08, -0.04, 0.00, 0.04, 0.09, 0.14, 0.19, 0.25, 0.30,
                  0.36, 0.43, 0.50, 0.58, 0.65, 0.71, 0.76, 0.81, 0.87, 0.92,
                  0.97, 1.02, 1.06, 1.11, 1.16, 1.21, 1.26, 1.31, 1.37, 1.42]

GROUPS = ["M025", "M098", "M110"]
Z_LABELS = ["z=0.000", "z=0.101", "z=0.242", "z=0.434",
            "z=0.656", "z=1.006", "z=1.610", "z=2.020"]
PANELS = {
    "M025": [(M025_Z0000, M025_Z0000_MID), (M025_Z0101, M025_Z0101_MID),
             (M025_Z0242, M025_Z0242_MID), (M025_Z0434, M025_Z0434_MID),
             (M025_Z0656, M025_Z0656_MID), (M025_Z1006, M025_Z1006_MID),
             (M025_Z1610, M025_Z1610_MID), (M025_Z2020, M025_Z2020_MID)],
    "M098": [(M098_Z0000, M098_Z0000_MID), (M098_Z0101, M098_Z0101_MID),
             (M098_Z0242, M098_Z0242_MID), (M098_Z0434, M098_Z0434_MID),
             (M098_Z0656, M098_Z0656_MID), (M098_Z1006, M098_Z1006_MID),
             (M098_Z1610, M098_Z1610_MID), (M098_Z2020, M098_Z2020_MID)],
    "M110": [(M110_Z0000, M110_Z0000_MID), (M110_Z0101, M110_Z0101_MID),
             (M110_Z0242, M110_Z0242_MID), (M110_Z0434, M110_Z0434_MID),
             (M110_Z0656, M110_Z0656_MID), (M110_Z1006, M110_Z1006_MID),
             (M110_Z1610, M110_Z1610_MID), (M110_Z2020, M110_Z2020_MID)],
}
TICKS = [-4, -2, 0, 2, 4]
TICK_TEXT = ["-4", "-2", "0", "2", "4"]
LIM = 4.5

# page geometry in pixels
W, H = 2400, 1500
GROUP_LEFT = [110, 912, 1710]
PANEL_W, PANEL_H = 332, 326
TOP = 84
FONT = "Liberation Sans, Arial, Helvetica, sans-serif"
POINT = "rgba(0,0,0,0.25)"

fig = go.Figure()
annotations = []
axes = {}

for g, name in enumerate(GROUPS):
    for k, (sample, sample_mid) in enumerate(PANELS[name]):
        r, c = divmod(k, 2)
        n = g * 8 + k + 1
        sfx = "" if n == 1 else str(n)
        px0 = GROUP_LEFT[g] + c * PANEL_W
        px1 = px0 + PANEL_W
        py0 = TOP + r * PANEL_H
        py1 = py0 + PANEL_H

        fig.add_trace(go.Scatter(
            x=THEO + THEO_MID, y=sample + sample_mid, mode="markers",
            xaxis="x" + sfx, yaxis="y" + sfx,
            marker=dict(size=17, color=POINT, line=dict(color=POINT, width=1.5)),
            hoverinfo="x+y",
        ))
        # reference line y = x
        fig.add_trace(go.Scatter(
            x=[-LIM, LIM], y=[-LIM, LIM], mode="lines",
            xaxis="x" + sfx, yaxis="y" + sfx,
            line=dict(color="black", width=4.5), hoverinfo="skip",
        ))

        common = dict(
            range=[-LIM, LIM], showgrid=False, zeroline=False,
            showline=True, mirror=True, linecolor="#333333", linewidth=2.5,
            tickvals=TICKS, ticktext=TICK_TEXT,
            ticklen=9, tickwidth=2.5, tickcolor="#333333",
            tickfont=dict(size=21, color="#4d4d4d", family=FONT),
            fixedrange=True,
        )
        axes["xaxis" + sfx] = dict(
            common, domain=[px0 / W, px1 / W], anchor="y" + sfx,
            ticks="outside" if r == 3 else "", showticklabels=(r == 3),
            ticklabelstandoff=-10,
        )
        axes["yaxis" + sfx] = dict(
            common, domain=[1 - py1 / H, 1 - py0 / H], anchor="x" + sfx,
            ticks="outside" if c == 0 else "", showticklabels=(c == 0),
            ticklabelstandoff=3,
        )

        annotations.append(dict(
            text=Z_LABELS[k], xref="paper", yref="paper",
            x=(px1 - 12) / W, y=1 - (py1 - 12) / H,
            xanchor="right", yanchor="bottom", showarrow=False,
            font=dict(size=24.5, color="black", family=FONT),
        ))

    cx = (GROUP_LEFT[g] + PANEL_W) / W
    annotations.append(dict(
        text=name, xref="paper", yref="paper", x=cx, y=1 - 36 / H,
        xanchor="center", yanchor="middle", showarrow=False,
        font=dict(size=40, color="black", family=FONT),
    ))
    annotations.append(dict(
        text="Theoretical quantiles", xref="paper", yref="paper",
        x=cx, y=1 - 1451 / H, xanchor="center", yanchor="middle",
        showarrow=False, font=dict(size=33, color="black", family=FONT),
    ))
    annotations.append(dict(
        text="Sample quantiles", xref="paper", yref="paper",
        x=(GROUP_LEFT[g] - 84) / W, y=1 - 736 / H, textangle=-90,
        xanchor="center", yanchor="middle", showarrow=False,
        font=dict(size=33, color="black", family=FONT),
    ))

fig.update_layout(
    width=W, height=H,
    margin=dict(l=0, r=0, t=0, b=0),
    showlegend=False,
    plot_bgcolor="white", paper_bgcolor="white",
    font=dict(family=FONT),
    annotations=annotations,
    **axes,
)

fig.write_html("out.html")
